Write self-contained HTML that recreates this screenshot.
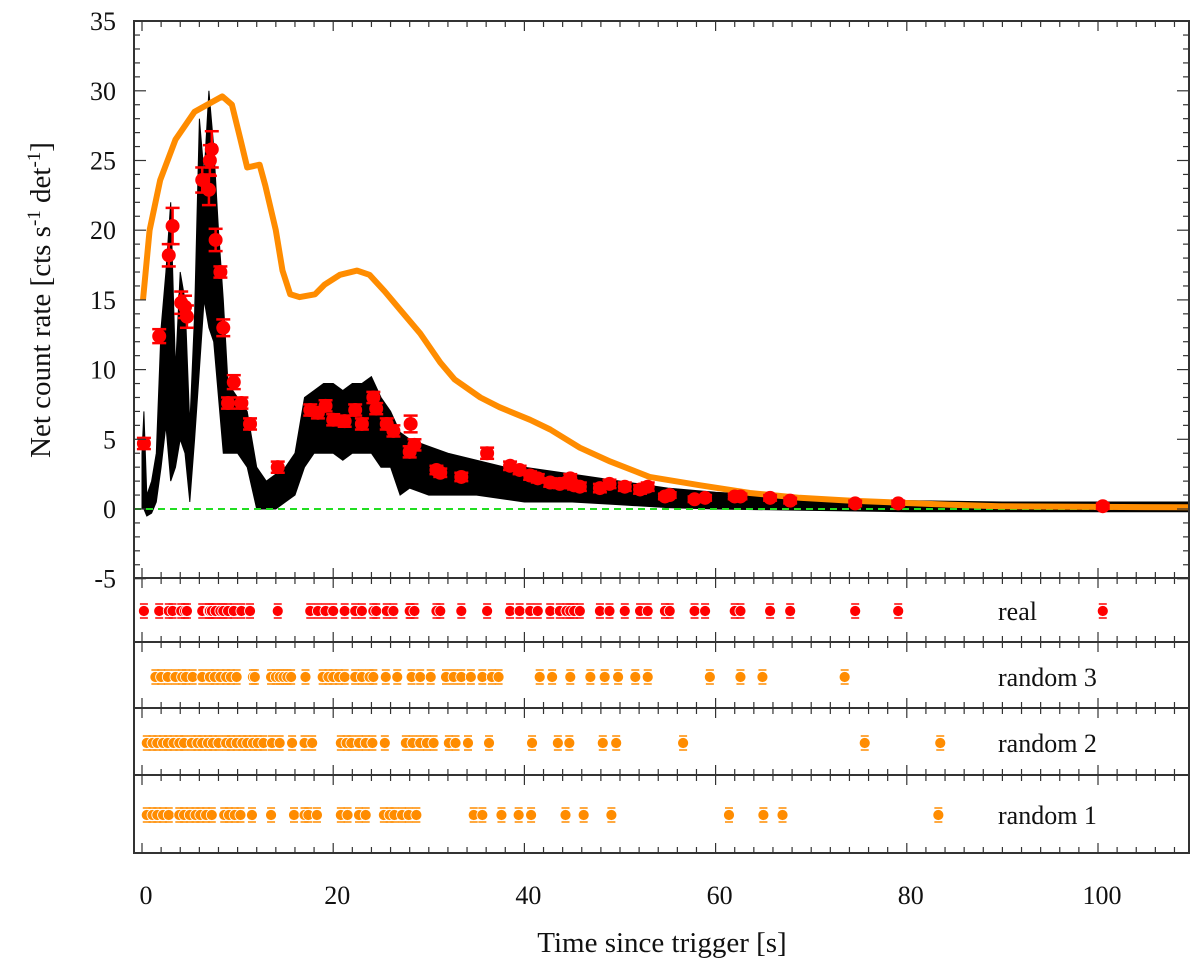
<!DOCTYPE html>
<html><head><meta charset="utf-8"><style>
body{margin:0;background:#fff}
svg{display:block;font-family:"Liberation Serif",serif}
</style></head><body>
<svg id="c" width="1200" height="966" xmlns="http://www.w3.org/2000/svg"></svg>
<script>
// ---- data ----
const redT=[0.2,1.8,2.8,3.2,4.1,4.5,4.7,6.3,7.0,7.1,7.3,7.7,8.2,8.5,9.0,9.6,10.4,11.3,14.2,17.6,18.4,19.2,20.0,21.2,22.3,23.0,24.2,24.5,25.6,26.3,28.1,28.0,28.5,30.8,31.2,33.4,36.1,38.5,39.5,40.6,41.4,42.7,43.7,44.4,44.8,45.2,45.8,47.9,48.9,50.5,52.1,52.9,54.7,55.2,57.8,58.9,62.0,62.6,65.7,67.8,74.6,79.1,100.5];
const redV=[4.7,12.4,18.2,20.3,14.8,14.5,13.8,23.6,22.9,25.0,25.8,19.3,17.0,13.0,7.6,9.1,7.6,6.1,3.0,7.1,6.9,7.4,6.4,6.3,7.1,6.1,8.0,7.2,6.1,5.6,6.1,4.1,4.6,2.8,2.6,2.3,4.0,3.1,2.8,2.4,2.2,1.9,1.8,1.9,2.2,1.7,1.6,1.5,1.8,1.6,1.4,1.6,0.9,1.0,0.7,0.8,0.9,0.9,0.8,0.6,0.4,0.4,0.2];
const redE=[0.4,0.5,0.8,1.3,0.8,0.8,0.8,0.9,1.1,1.1,1.3,0.8,0.4,0.6,0.4,0.5,0.4,0.4,0.4,0.4,0.4,0.4,0.4,0.4,0.4,0.4,0.4,0.4,0.4,0.4,0.6,0.4,0.4,0.3,0.3,0.3,0.4,0.3,0.3,0.3,0.3,0.3,0.3,0.3,0.3,0.3,0.3,0.3,0.3,0.3,0.3,0.3,0.2,0.2,0.2,0.2,0.2,0.2,0.2,0.2,0.2,0.2,0.2];
const rand3T=[1.4,2.0,2.7,3.5,4.2,4.6,5.3,6.3,7.1,7.6,8.2,8.8,9.3,9.9,11.6,11.8,13.5,14.0,14.4,14.8,15.2,15.6,17.1,18.9,19.5,20.0,20.6,21.2,22.3,23.0,23.8,24.2,25.5,26.7,28.2,29.1,30.2,31.8,32.6,33.4,34.4,35.6,36.6,37.3,41.6,42.9,44.8,46.9,48.4,49.8,51.6,52.9,59.4,62.6,64.9,73.5];
const rand2T=[0.5,1.1,1.6,2.2,2.7,3.3,3.9,4.4,5.2,5.8,6.3,6.9,7.4,8.0,8.8,9.3,9.9,10.5,11.0,11.6,12.1,12.7,13.6,14.4,15.7,17.0,17.8,20.8,21.4,21.9,22.7,23.4,24.1,25.4,27.6,28.3,29.1,29.8,30.5,32.1,32.8,34.1,36.3,40.8,43.5,44.7,48.2,49.6,56.6,75.6,83.5];
const rand1T=[0.5,1.1,1.6,2.2,2.8,3.9,4.4,5.0,5.6,6.1,6.7,7.3,8.6,9.1,9.7,10.3,11.5,13.5,15.9,17.0,17.4,18.3,20.8,21.5,22.7,23.4,25.3,25.9,26.4,27.2,27.9,28.7,34.7,35.6,37.6,39.4,40.7,44.3,46.2,49.1,61.4,65.0,67.0,83.3];
const orangeT=[0.1,0.8,1.9,3.5,5.5,7.1,8.4,9.4,10.3,11,12.3,12.9,14,14.7,15.5,16.5,18.1,19.1,20.7,22.5,23.8,25.4,27,29.1,31.2,32.7,35.4,37.4,40.6,42.7,45.8,49,53.1,58.4,63.6,68.8,74,79.3,84.5,89.7,100.2,109.5];
const orangeV=[15.0,20,23.6,26.5,28.5,29.1,29.6,29,26.5,24.5,24.7,23.2,20,17.1,15.4,15.2,15.4,16.1,16.8,17.1,16.8,15.6,14.3,12.6,10.5,9.3,8,7.3,6.4,5.7,4.4,3.4,2.3,1.7,1.15,0.8,0.6,0.45,0.3,0.2,0.15,0.12];
const lcT=[0,0.2,0.5,1,1.5,2,2.5,3,3.5,4,4.5,5,5.5,6,6.5,7,7.5,8,8.5,9,10,11,12,13,14,15,16,17,18,19,20,21,22,23,24,25,26,27,28,30,32,35,38,40,45,50,55,60,70,80,90,109.5];
const lcLo=[0,0,-0.5,-0.3,0.5,3,6,2,3,5,4,0.5,5,10,15,13,12,8,4,4,4,3,0,0,0,0.5,1,3,4,4,4,3.5,4,4,4,3,3,1,1.5,1,1,1,0.7,0.5,0.5,0.3,0.1,0,-0.1,-0.2,-0.2,-0.2];
const lcHi=[4,7,1,2,4,13,17,22,10,17,15,6,14,28,24,30,26,20,15,9,8,7,3,2,2.5,3,4,8,8.5,9,9,8.5,9,9,9.5,8,7,5.5,5,4.5,4,3.5,3,3,2.5,2,1.5,1.2,0.8,0.6,0.5,0.5];
const yTicks=[35,30,25,20,15,10,5,0,-5];
const xTicks=[0,20,40,60,80,100];
// ---- layout ----
const L=134,R=1189,T=21,MB=578,B=853;
const X=t=>142+9.56*t;
const Y=v=>509-13.94*v;
const strips=[{y0:578,y1:642,cy:611,label:'real',t:redT,c:'#ff0000'},{y0:642,y1:708,cy:677,label:'random 3',t:rand3T,c:'#ff8c00'},{y0:708,y1:775,cy:743,label:'random 2',t:rand2T,c:'#ff8c00'},{y0:775,y1:853,cy:815,label:'random 1',t:rand1T,c:'#ff8c00'}];
const svg=document.getElementById('c');const NS='http://www.w3.org/2000/svg';
function mk(tag,at,parent){const e=document.createElementNS(NS,tag);for(const k in at)e.setAttribute(k,at[k]);(parent||svg).appendChild(e);return e;}
// light curve band
let up=lcT.map((t,i)=>X(t).toFixed(1)+','+Y(lcHi[i]).toFixed(1));
let dn=lcT.map((t,i)=>X(t).toFixed(1)+','+Y(lcLo[i]).toFixed(1)).reverse();
const band=mk('polygon',{points:up.concat(dn).join(' '),fill:'#000',stroke:'#000','stroke-width':1});


const zl=mk('line',{x1:L,x2:R,y1:Y(0),y2:Y(0),stroke:'#22dd22','stroke-width':2,'stroke-dasharray':'7,5'});


const oc=mk('polyline',{points:orangeT.map((t,i)=>X(t).toFixed(1)+','+Y(orangeV[i]).toFixed(1)).join(' '),fill:'none',stroke:'#ff8c00','stroke-width':6,'stroke-linejoin':'round'});


redT.forEach((t,i)=>{const g=mk('g',{});


const x=X(t),y1=Y(redV[i]+redE[i]),y2=Y(redV[i]-redE[i]);
mk('line',{x1:x,x2:x,y1:y1,y2:y2,stroke:'#f00','stroke-width':2.5},g);
mk('line',{x1:x-7,x2:x+7,y1:y1,y2:y1,stroke:'#f00','stroke-width':2.5},g);
mk('line',{x1:x-7,x2:x+7,y1:y2,y2:y2,stroke:'#f00','stroke-width':2.5},g);
mk('circle',{cx:x,cy:Y(redV[i]),r:7,fill:'#f00'},g);});
// strips
strips.forEach(s=>{s.t.forEach(t=>{const g=mk('g',{});


const x=X(t);
mk('line',{x1:x-4,x2:x+4,y1:s.cy-7,y2:s.cy-7,stroke:s.c,'stroke-width':1.5},g);
mk('line',{x1:x-4,x2:x+4,y1:s.cy+7,y2:s.cy+7,stroke:s.c,'stroke-width':1.5},g);
mk('circle',{cx:x,cy:s.cy,r:5.5,fill:s.c,stroke:'#fff','stroke-width':0.8},g);});
const tx=mk('text',{x:998,y:s.cy+9,'font-size':26,'text-anchor':'start',fill:'#111'});tx.textContent=s.label;

});
// frames
const fr=mk('rect',{x:L,y:T,width:R-L,height:B-T,fill:'none',stroke:'#333','stroke-width':2});


strips.forEach(s=>mk('line',{x1:L,x2:R,y1:s.y0,y2:s.y0,stroke:'#333','stroke-width':2}));
const hl=[{y:T,d:1},{y:MB,d:-1},{y:642,d:1},{y:642,d:-1},{y:708,d:1},{y:708,d:-1},{y:775,d:1},{y:775,d:-1},{y:B,d:-1},{y:578,d:1}];
for(let t=0;t<=108;t+=2){const x=X(t),maj=t%20==0;
hl.forEach(h=>mk('line',{x1:x,x2:x,y1:h.y,y2:h.y+h.d*(maj?10:6),stroke:'#333','stroke-width':1.2}));}
for(let v=-5;v<=35;v++){const y=Y(v),maj=v%5==0;
mk('line',{x1:L,x2:L+(maj?12:6),y1:y,y2:y,stroke:'#333','stroke-width':1.2});
mk('line',{x1:R,x2:R-(maj?12:6),y1:y,y2:y,stroke:'#333','stroke-width':1.2});}
yTicks.forEach(v=>{const t=mk('text',{x:116,y:Y(v)+9,'font-size':26,'text-anchor':'end',fill:'#111'});t.textContent=v;

});
xTicks.forEach(v=>{const t=mk('text',{x:X(v)+4,y:904,'font-size':26,'text-anchor':'middle',fill:'#111'});t.textContent=v;

});
const xt=mk('text',{x:662,y:952,'font-size':29,'text-anchor':'middle',fill:'#111'});xt.textContent='Time since trigger [s]';


const yt=mk('text',{x:0,y:0,'font-size':29,'text-anchor':'middle',fill:'#111',transform:'translate(50,300) rotate(-90)'});
yt.innerHTML='Net count rate [cts s<tspan dy="-10" font-size="19">-1</tspan><tspan dy="10"> det</tspan><tspan dy="-10" font-size="19">-1</tspan><tspan dy="10">]</tspan>';


</script>
</body></html>
